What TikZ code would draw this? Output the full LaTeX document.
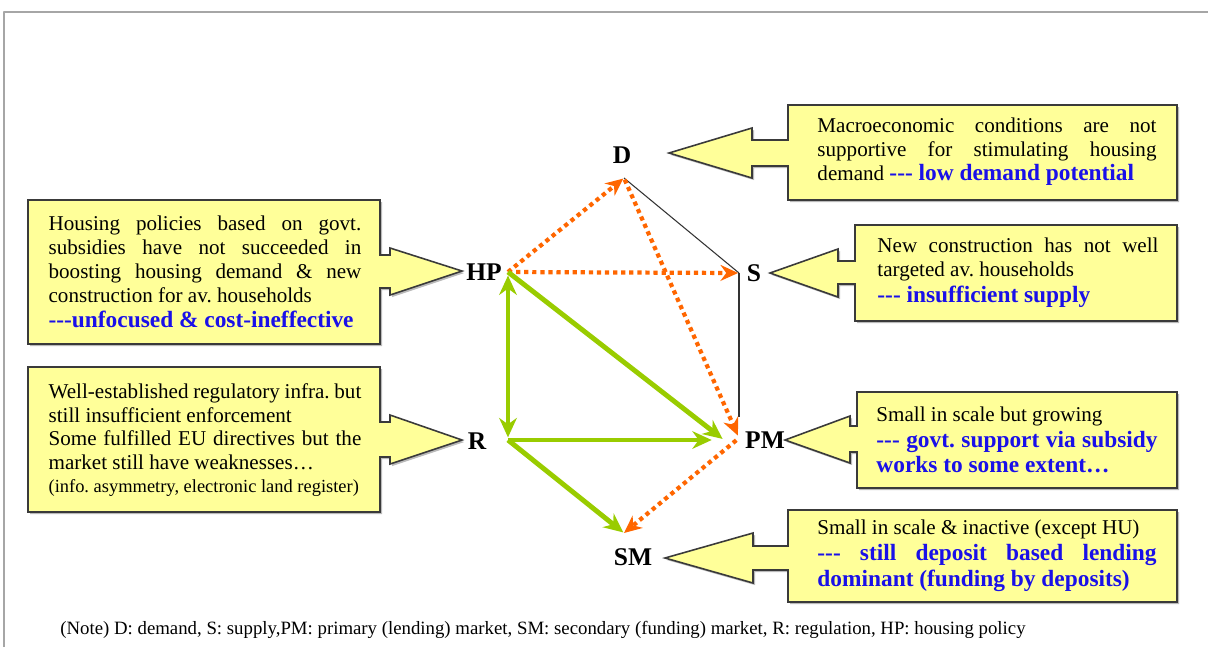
\documentclass[tikz,border=0pt]{standalone}
\usepackage{fontspec}
\setmainfont{Liberation Serif}
\usetikzlibrary{arrows.meta,positioning,shadows}

\definecolor{boxyellow}{HTML}{FFFF99}
\definecolor{boxline}{HTML}{3A3A3A}
\definecolor{linkorange}{HTML}{FF6600}
\definecolor{linkgreen}{HTML}{99CC00}
\definecolor{noteblue}{HTML}{1A10E8}
\definecolor{framegray}{HTML}{A6A6A6}

\newcommand{\dsh}{-{}-{}-}
\newcommand{\blu}[1]{{\color{noteblue}\bfseries\fontsize{13.3}{14.7}\selectfont #1}}
\newcommand{\notefont}{\fontsize{12}{13.6}\selectfont\frenchspacing\hyphenpenalty=10000\tolerance=9999\emergencystretch=2em }

\tikzset{
  callout/.style={fill=boxyellow, draw=boxline, line width=0.9pt, line join=miter,
    drop shadow={shadow xshift=1.2pt, shadow yshift=-1.2pt, fill=black!45, opacity=0.6}},
  notetext/.style={inner sep=0pt, text width=#1, align=justify, font=\notefont},
  vlabel/.style={font=\fontsize{14.5}{16}\selectfont\bfseries, inner sep=1pt},
  thinlink/.style={draw=black!80, line width=0.6pt},
  orangelink/.style={draw=linkorange, line width=2.4pt, dash pattern=on 2.4pt off 2.2pt,
    -{Stealth[length=10pt,width=9pt]}},
  greenlink/.style={draw=linkgreen, line width=2.8pt, -{Stealth[length=11pt,width=10pt]}},
}

\begin{document}
\begin{tikzpicture}[x=0.02cm, y=-0.02cm, line join=round]
  \useasboundingbox (0,0) rectangle (1208,647);
  \draw[framegray, line width=1.4pt] (4,647) -- (4,12) -- (1208,12);

  % corners of the diagram
  \coordinate (d) at (624,178);
  \coordinate (hp) at (508,272);
  \coordinate (s) at (739,273);
  \coordinate (r) at (508,440);
  \coordinate (pm) at (739,438);
  \coordinate (pmg) at (724,440);
  \coordinate (sm) at (624,533);

  % letters
  \node[vlabel] (dlab) at (622,155) {D};
  \node[vlabel] (hplab) at (484,272) {HP};
  \node[vlabel] (slab) at (754,273) {S};
  \node[vlabel] (rlab) at (477,441) {R};
  \node[vlabel] (pmlab) at (765,440) {PM};
  \node[vlabel] (smlab) at (633,557) {SM};

  % links
  \draw[thinlink] (d) -- (s);
  \draw[thinlink, shorten >=12pt] (s) -- (pm);
  \draw[orangelink, shorten >=0.5pt] (hp) -- (d);
  \draw[orangelink, shorten >=0.5pt] (hp) -- (s);
  \draw[orangelink, shorten <=1pt, shorten >=1.5pt] (d) -- (pm);
  \draw[orangelink, shorten <=2pt] (pm) -- (sm);
  \draw[greenlink, {Stealth[length=11pt,width=10pt]}-{Stealth[length=11pt,width=10pt]}, shorten <=2pt, shorten >=1.5pt] (hp) -- (r);
  \draw[greenlink, shorten >=1pt] (hp) -- (pmg);
  \draw[greenlink, shorten >=7pt] (r) -- (pmg);
  \draw[greenlink, shorten >=0.5pt] (r) -- (sm);

  % call-out boxes
  \draw[callout] (788,105) -- (1177,105) -- (1177,200) -- (788,200) -- (788,166) -- (752,166) -- (752,178)
    -- (669,153) -- (752,128) -- (752,140) -- (788,140) -- cycle;
  \draw[callout] (28,200) -- (380,200) -- (380,255) -- (390,255) -- (390,248) -- (462,271)
    -- (390,295) -- (390,288) -- (380,288) -- (380,344) -- (28,344) -- cycle;
  \draw[callout] (28,367) -- (380,367) -- (380,422) -- (390,422) -- (390,415) -- (462,440)
    -- (390,464) -- (390,457) -- (380,457) -- (380,512) -- (28,512) -- cycle;
  \draw[callout] (855,225) -- (1177,225) -- (1177,321) -- (855,321) -- (855,284) -- (838,284) -- (838,297)
    -- (770,273) -- (838,249) -- (838,261) -- (855,261) -- cycle;
  \draw[callout] (857,392) -- (1177,392) -- (1177,488) -- (857,488) -- (857,452) -- (850,452) -- (850,463)
    -- (785,440) -- (850,416) -- (850,426) -- (857,426) -- cycle;
  \draw[callout] (788,510) -- (1177,510) -- (1177,602) -- (788,602) -- (788,570) -- (753,570) -- (753,583)
    -- (665,558) -- (753,533) -- (753,546) -- (788,546) -- cycle;

  % texts
  \node[notetext=193pt] (dnote) at (987,152) {Macroeconomic conditions are not\linebreak
    supportive for stimulating housing\linebreak demand \blu{\dsh{} low demand potential}};
  \node[notetext=178pt] (hpnote) at (205,272) {Housing policies based on govt.\linebreak
    subsidies have not succeeded in\linebreak boosting housing demand \& new\linebreak
    construction for av. households\par\blu{\dsh unfocused \& cost-ineffective\par}};
  \node[notetext=160pt] (snote) at (1018,273) {New construction has not well\linebreak
    targeted av. households\par\blu{\dsh{} insufficient supply\par}};
  \node[notetext=178pt] (rnote) at (205,440) {Well-established regulatory infra. but\linebreak
    still insufficient enforcement\par Some fulfilled EU directives but the\linebreak
    market still have weaknesses…\par
    {\fontsize{10.5}{13}\selectfont (info. asymmetry, electronic land register)\par}};
  \node[notetext=160pt] (pmnote) at (1017,440) {Small in scale but growing\par
    \blu{\dsh{} govt. support via subsidy\linebreak works to some extent…\par}};
  \node[notetext=193pt] (smnote) at (987,556) {Small in scale \& inactive (except HU)\par
    \blu{\dsh{} still deposit based lending\linebreak dominant (funding by deposits)\par}};

  \node[anchor=west, inner sep=0pt, font=\fontsize{10.7}{12}\selectfont] (note) at (60,630)
    {(Note) D: demand, S: supply,PM: primary (lending) market, SM: secondary (funding) market, R: regulation, HP: housing policy};
\end{tikzpicture}
\end{document}
